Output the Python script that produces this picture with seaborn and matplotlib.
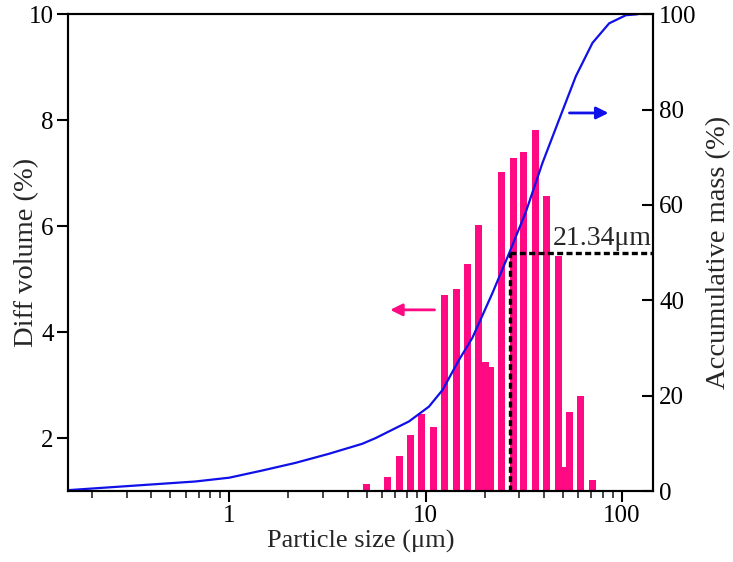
import numpy as np
import matplotlib
matplotlib.use("Agg")
import matplotlib.pyplot as plt
import seaborn as sns

# differential volume distribution (bars, left axis)
bar_size = [5.01, 6.41, 7.39, 8.40, 9.56, 11.0, 12.5, 14.3, 16.4, 18.7, 20.2, 21.5,
            24.5, 27.9, 31.7, 36.5, 41.5, 47.3, 50.7, 54.4, 61.9, 70.5]
diff_vol = [1.13, 1.26, 1.67, 2.05, 2.45, 2.21, 4.70, 4.81, 5.28, 6.02, 3.44, 3.34,
            7.03, 7.29, 7.40, 7.81, 6.56, 5.44, 1.46, 2.49, 2.80, 1.21]

# cumulative mass curve (right axis)
cum_size = [0.153, 0.307, 0.671, 1.0, 1.47, 2.17, 3.21, 4.75, 5.56, 8.23, 10.4,
            12.2, 14.8, 17.3, 21.9, 26.6, 32.4, 39.4, 47.9, 58.3, 70.9, 86.2,
            104.8, 120.0]
cum_mass = [0.2, 1.05, 2.0, 2.8, 4.3, 5.9, 7.8, 9.9, 11.1, 14.6, 17.7,
            21.2, 27.5, 32.1, 41.5, 49.8, 58.5, 68.8, 77.9, 87.0, 94.0, 98.1,
            99.8, 100.0]

d50_pos = 26.9
d50_label = "21.34\u03bcm"

pink = "#FF0A82"
blue = "#1010E8"

sns.set_style("ticks")
plt.rcParams["font.family"] = ["Liberation Serif", "DejaVu Serif"]

fig = plt.figure(figsize=(7.33, 5.62), dpi=100)
ax = fig.add_axes([0.0924, 0.1263, 0.7991, 0.8483])
ax2 = ax.twinx()

# bars on a log axis: constant width in log units
w = 0.0357
sizes = np.array(bar_size)
left = sizes * 10 ** (-w / 2)
widths = sizes * 10 ** (w / 2) - left
ax.bar(left, diff_vol, width=widths, align="edge", color=pink, linewidth=0)

sns.lineplot(x=cum_size, y=cum_mass, ax=ax2, color=blue, linewidth=1.6)

ax.set_xscale("log")
ax.set_xlim(0.15, 145)
ax.set_ylim(1, 10)
ax2.set_ylim(0, 100)
ax.set_yticks([2, 4, 6, 8, 10])
ax2.set_yticks([0, 20, 40, 60, 80, 100])
ax.set_xticks([1, 10, 100])
ax.set_xticklabels(["1", "10", "100"])

# D50 guide lines
dash = (0, (1.8, 1.0))
ax2.plot([d50_pos, d50_pos], [0, 50], ls=dash, color="black", lw=2.4)
ax2.plot([d50_pos, 145], [50, 50], ls=dash, color="black", lw=2.4)
ax2.text(79.5, 51.7, d50_label, fontsize=20, ha="center", va="baseline")

# direction arrows
ax.annotate("", xy=(6.6, 4.42), xytext=(11.1, 4.42),
            arrowprops=dict(arrowstyle="-|>", color=pink, lw=2,
                            mutation_scale=18, shrinkA=0, shrinkB=0))
ax2.annotate("", xy=(85.5, 79.3), xytext=(54.1, 79.3),
             arrowprops=dict(arrowstyle="-|>", color=blue, lw=2,
                             mutation_scale=18, shrinkA=0, shrinkB=0))

ax.set_xlabel("Particle size (\u03bcm)", fontsize=19, labelpad=2)
ax.set_ylabel("Diff volume (%)", fontsize=20.5)
ax2.set_ylabel("Accumulative mass (%)", fontsize=20.5, rotation=90)
ax.yaxis.set_label_coords(-0.048, 0.5)
ax2.yaxis.set_label_coords(1.09, 0.5)

for a in (ax, ax2):
    for s in a.spines.values():
        s.set_linewidth(1.5)
        s.set_color("black")
ax.tick_params(axis="both", which="major", labelsize=18, direction="out",
               length=8, width=1.5, colors="black", pad=2)
ax.tick_params(axis="x", which="minor", direction="out", length=5, width=1.2)
ax2.tick_params(axis="y", which="major", labelsize=18, direction="in",
                length=8, width=1.5, colors="black", pad=4)

fig.savefig("out.png", dpi=100)
